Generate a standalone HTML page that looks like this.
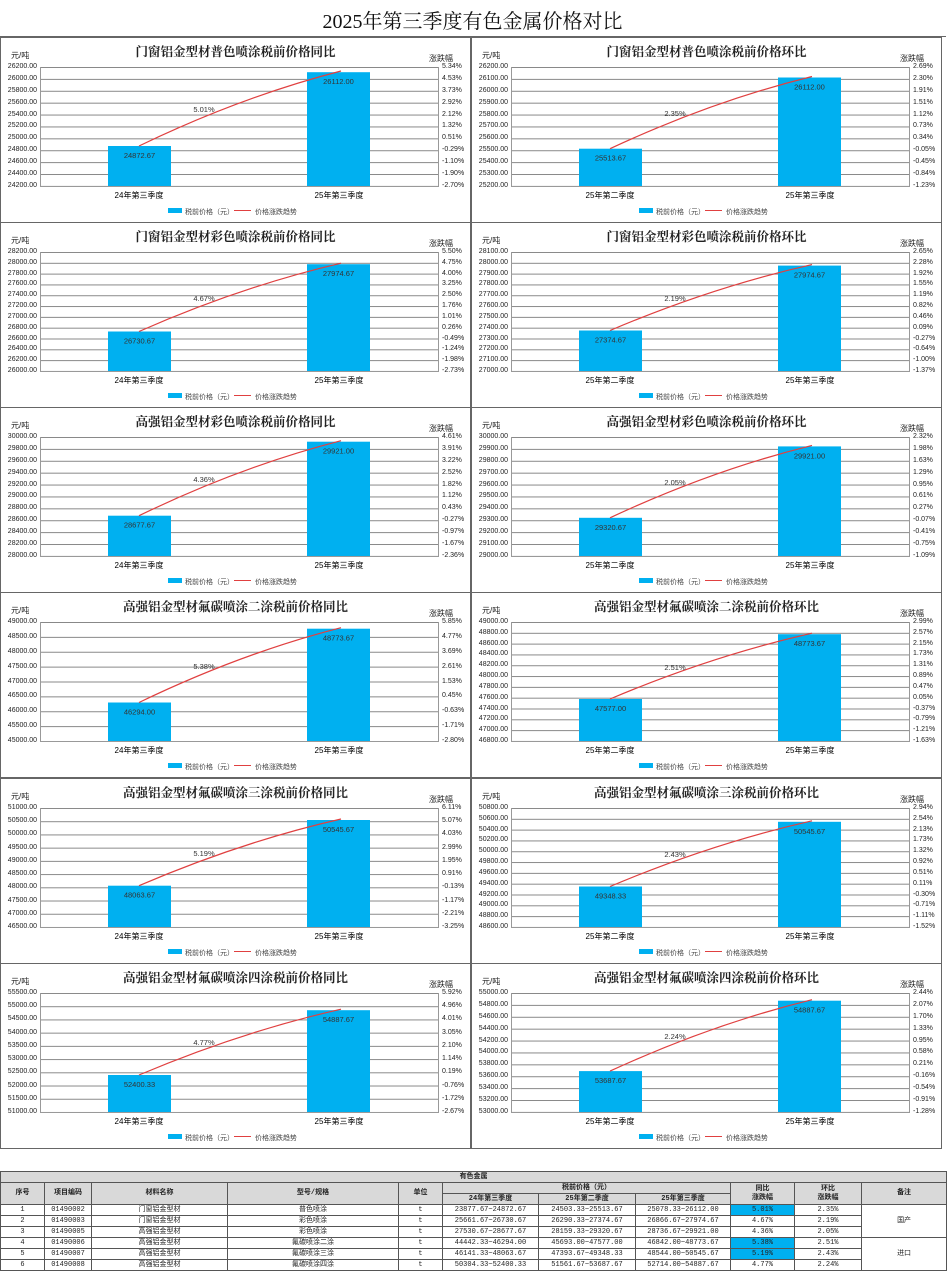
<!DOCTYPE html>
<html><head><meta charset="utf-8"><style>
*{margin:0;padding:0}
body{width:950px;height:1270px;position:relative;background:#fff;font-family:"Liberation Sans","Noto Sans CJK SC",sans-serif;color:#222;overflow:hidden}
.h{position:absolute;left:0;top:5px;width:945px;text-align:center;font:20px "Liberation Serif","Noto Serif CJK SC",serif;color:#111}
.c{position:absolute;width:469px;height:184px;border:1px solid #666}
.t{position:absolute;top:4px;left:0;width:100%;text-align:center;font:bold 12.5px "Liberation Serif","Noto Serif CJK SC",serif;color:#222}
.u{position:absolute;left:10px;top:12px;font-size:8px}
.r{position:absolute;left:428px;top:15px;font-size:8px}
.p{position:absolute;left:39px;top:29px;width:397px;height:119px;border:1px solid #999;border-top:none;background:linear-gradient(#888 1px,transparent 1px) 0 0/100% calc(119px / var(--n))}
.yl,.yr{position:absolute;top:25px;height:127px;display:flex;flex-direction:column;justify-content:space-between;font-size:7px;line-height:8px}
.yl{left:0;width:36px;text-align:right}
.yr{left:441px;text-align:left}
svg{position:absolute;left:0;top:0}
svg text{font-family:"Liberation Sans","Noto Sans CJK SC",sans-serif}
table{position:absolute;left:0;top:1171px;width:946px;border-collapse:collapse;table-layout:fixed;font:7px "Liberation Mono","Noto Sans CJK SC",monospace}
td{border:1px solid #555;height:10px;text-align:center;padding:0;line-height:9px;white-space:nowrap;overflow:hidden}
.g td,td.g{background:#d9d9d9;font-weight:bold}
td.b{background:#00b0f0}
</style></head><body>
<div class="h">2025年第三季度有色金属价格对比</div>
<div style="position:absolute;left:0;top:36px;width:946px;border-top:1px solid #666"></div>

<!-- C1 -->
<div class="c" style="left:0;top:37px">
<div class="t">门窗铝金型材普色喷涂税前价格同比</div><div class="u">元/吨</div><div class="r">涨跌幅</div>
<div class="p" style="--n:10"></div>
<div class="yl"><span>26200.00</span><span>26000.00</span><span>25800.00</span><span>25600.00</span><span>25400.00</span><span>25200.00</span><span>25000.00</span><span>24800.00</span><span>24600.00</span><span>24400.00</span><span>24200.00</span></div>
<div class="yr"><span>5.34%</span><span>4.53%</span><span>3.73%</span><span>2.92%</span><span>2.12%</span><span>1.32%</span><span>0.51%</span><span>-0.29%</span><span>-1.10%</span><span>-1.90%</span><span>-2.70%</span></div>
<svg width="470" height="185"><rect x="107" y="108" width="63" height="40" fill="#00b0f0"/><rect x="306" y="34.2" width="63" height="113.8" fill="#00b0f0"/>
<text x="138.5" y="120" font-size="7.5" text-anchor="middle" fill="#333">24872.67</text><text x="337.5" y="46" font-size="7.5" text-anchor="middle" fill="#333">26112.00</text>
<path d="M138 108 Q240 58.8 340 33" fill="none" stroke="#e04040" stroke-width="1.2"/><text x="203" y="74" font-size="7.5" text-anchor="middle" fill="#333">5.01%</text>
<text x="138" y="160" font-size="8" text-anchor="middle">24年第三季度</text><text x="338" y="160" font-size="8" text-anchor="middle">25年第三季度</text>
<rect x="167" y="170" width="14" height="5" fill="#00b0f0"/><text x="184" y="176" font-size="7" fill="#444">税前价格（元）</text><line x1="233" y1="172.5" x2="250" y2="172.5" stroke="#e04040"/><text x="254" y="176" font-size="7" fill="#444">价格涨跌趋势</text></svg>
</div>

<!-- C2 -->
<div class="c" style="left:471px;top:37px">
<div class="t">门窗铝金型材普色喷涂税前价格环比</div><div class="u">元/吨</div><div class="r">涨跌幅</div>
<div class="p" style="--n:10"></div>
<div class="yl"><span>26200.00</span><span>26100.00</span><span>26000.00</span><span>25900.00</span><span>25800.00</span><span>25700.00</span><span>25600.00</span><span>25500.00</span><span>25400.00</span><span>25300.00</span><span>25200.00</span></div>
<div class="yr"><span>2.69%</span><span>2.30%</span><span>1.91%</span><span>1.51%</span><span>1.12%</span><span>0.73%</span><span>0.34%</span><span>-0.05%</span><span>-0.45%</span><span>-0.84%</span><span>-1.23%</span></div>
<svg width="470" height="185"><rect x="107" y="110.7" width="63" height="37.3" fill="#00b0f0"/><rect x="306" y="39.5" width="63" height="108.5" fill="#00b0f0"/>
<text x="138.5" y="122.7" font-size="7.5" text-anchor="middle" fill="#333">25513.67</text><text x="337.5" y="51.5" font-size="7.5" text-anchor="middle" fill="#333">26112.00</text>
<path d="M138 110.7 Q240 63.2 340 38.5" fill="none" stroke="#e04040" stroke-width="1.2"/><text x="203" y="78" font-size="7.5" text-anchor="middle" fill="#333">2.35%</text>
<text x="138" y="160" font-size="8" text-anchor="middle">25年第二季度</text><text x="338" y="160" font-size="8" text-anchor="middle">25年第三季度</text>
<rect x="167" y="170" width="14" height="5" fill="#00b0f0"/><text x="184" y="176" font-size="7" fill="#444">税前价格（元）</text><line x1="233" y1="172.5" x2="250" y2="172.5" stroke="#e04040"/><text x="254" y="176" font-size="7" fill="#444">价格涨跌趋势</text></svg>
</div>

<!-- C3 -->
<div class="c" style="left:0;top:222px">
<div class="t">门窗铝金型材彩色喷涂税前价格同比</div><div class="u">元/吨</div><div class="r">涨跌幅</div>
<div class="p" style="--n:11"></div>
<div class="yl"><span>28200.00</span><span>28000.00</span><span>27800.00</span><span>27600.00</span><span>27400.00</span><span>27200.00</span><span>27000.00</span><span>26800.00</span><span>26600.00</span><span>26400.00</span><span>26200.00</span><span>26000.00</span></div>
<div class="yr"><span>5.50%</span><span>4.75%</span><span>4.00%</span><span>3.25%</span><span>2.50%</span><span>1.76%</span><span>1.01%</span><span>0.26%</span><span>-0.49%</span><span>-1.24%</span><span>-1.98%</span><span>-2.73%</span></div>
<svg width="470" height="185"><rect x="107" y="108.5" width="63" height="39.5" fill="#00b0f0"/><rect x="306" y="41.2" width="63" height="106.8" fill="#00b0f0"/>
<text x="138.5" y="120.5" font-size="7.5" text-anchor="middle" fill="#333">26730.67</text><text x="337.5" y="53.2" font-size="7.5" text-anchor="middle" fill="#333">27974.67</text>
<path d="M138 108.5 Q240 63.6 340 40.2" fill="none" stroke="#e04040" stroke-width="1.2"/><text x="203" y="78" font-size="7.5" text-anchor="middle" fill="#333">4.67%</text>
<text x="138" y="160" font-size="8" text-anchor="middle">24年第三季度</text><text x="338" y="160" font-size="8" text-anchor="middle">25年第三季度</text>
<rect x="167" y="170" width="14" height="5" fill="#00b0f0"/><text x="184" y="176" font-size="7" fill="#444">税前价格（元）</text><line x1="233" y1="172.5" x2="250" y2="172.5" stroke="#e04040"/><text x="254" y="176" font-size="7" fill="#444">价格涨跌趋势</text></svg>
</div>

<!-- C4 -->
<div class="c" style="left:471px;top:222px">
<div class="t">门窗铝金型材彩色喷涂税前价格环比</div><div class="u">元/吨</div><div class="r">涨跌幅</div>
<div class="p" style="--n:11"></div>
<div class="yl"><span>28100.00</span><span>28000.00</span><span>27900.00</span><span>27800.00</span><span>27700.00</span><span>27600.00</span><span>27500.00</span><span>27400.00</span><span>27300.00</span><span>27200.00</span><span>27100.00</span><span>27000.00</span></div>
<div class="yr"><span>2.65%</span><span>2.28%</span><span>1.92%</span><span>1.55%</span><span>1.19%</span><span>0.82%</span><span>0.46%</span><span>0.09%</span><span>-0.27%</span><span>-0.64%</span><span>-1.00%</span><span>-1.37%</span></div>
<svg width="470" height="185"><rect x="107" y="107.5" width="63" height="40.5" fill="#00b0f0"/><rect x="306" y="42.6" width="63" height="105.4" fill="#00b0f0"/>
<text x="138.5" y="119.5" font-size="7.5" text-anchor="middle" fill="#333">27374.67</text><text x="337.5" y="54.6" font-size="7.5" text-anchor="middle" fill="#333">27974.67</text>
<path d="M138 107.5 Q240 64.2 340 41.6" fill="none" stroke="#e04040" stroke-width="1.2"/><text x="203" y="78" font-size="7.5" text-anchor="middle" fill="#333">2.19%</text>
<text x="138" y="160" font-size="8" text-anchor="middle">25年第二季度</text><text x="338" y="160" font-size="8" text-anchor="middle">25年第三季度</text>
<rect x="167" y="170" width="14" height="5" fill="#00b0f0"/><text x="184" y="176" font-size="7" fill="#444">税前价格（元）</text><line x1="233" y1="172.5" x2="250" y2="172.5" stroke="#e04040"/><text x="254" y="176" font-size="7" fill="#444">价格涨跌趋势</text></svg>
</div>

<!-- C5 -->
<div class="c" style="left:0;top:407px">
<div class="t">高强铝金型材彩色喷涂税前价格同比</div><div class="u">元/吨</div><div class="r">涨跌幅</div>
<div class="p" style="--n:10"></div>
<div class="yl"><span>30000.00</span><span>29800.00</span><span>29600.00</span><span>29400.00</span><span>29200.00</span><span>29000.00</span><span>28800.00</span><span>28600.00</span><span>28400.00</span><span>28200.00</span><span>28000.00</span></div>
<div class="yr"><span>4.61%</span><span>3.91%</span><span>3.22%</span><span>2.52%</span><span>1.82%</span><span>1.12%</span><span>0.43%</span><span>-0.27%</span><span>-0.97%</span><span>-1.67%</span><span>-2.36%</span></div>
<svg width="470" height="185"><rect x="107" y="107.7" width="63" height="40.3" fill="#00b0f0"/><rect x="306" y="33.7" width="63" height="114.3" fill="#00b0f0"/>
<text x="138.5" y="119.7" font-size="7.5" text-anchor="middle" fill="#333">28677.67</text><text x="337.5" y="45.7" font-size="7.5" text-anchor="middle" fill="#333">29921.00</text>
<path d="M138 107.7 Q240 58.4 340 32.7" fill="none" stroke="#e04040" stroke-width="1.2"/><text x="203" y="74" font-size="7.5" text-anchor="middle" fill="#333">4.36%</text>
<text x="138" y="160" font-size="8" text-anchor="middle">24年第三季度</text><text x="338" y="160" font-size="8" text-anchor="middle">25年第三季度</text>
<rect x="167" y="170" width="14" height="5" fill="#00b0f0"/><text x="184" y="176" font-size="7" fill="#444">税前价格（元）</text><line x1="233" y1="172.5" x2="250" y2="172.5" stroke="#e04040"/><text x="254" y="176" font-size="7" fill="#444">价格涨跌趋势</text></svg>
</div>

<!-- C6 -->
<div class="c" style="left:471px;top:407px">
<div class="t">高强铝金型材彩色喷涂税前价格环比</div><div class="u">元/吨</div><div class="r">涨跌幅</div>
<div class="p" style="--n:10"></div>
<div class="yl"><span>30000.00</span><span>29900.00</span><span>29800.00</span><span>29700.00</span><span>29600.00</span><span>29500.00</span><span>29400.00</span><span>29300.00</span><span>29200.00</span><span>29100.00</span><span>29000.00</span></div>
<div class="yr"><span>2.32%</span><span>1.98%</span><span>1.63%</span><span>1.29%</span><span>0.95%</span><span>0.61%</span><span>0.27%</span><span>-0.07%</span><span>-0.41%</span><span>-0.75%</span><span>-1.09%</span></div>
<svg width="470" height="185"><rect x="107" y="109.8" width="63" height="38.2" fill="#00b0f0"/><rect x="306" y="38.4" width="63" height="109.6" fill="#00b0f0"/>
<text x="138.5" y="121.8" font-size="7.5" text-anchor="middle" fill="#333">29320.67</text><text x="337.5" y="50.4" font-size="7.5" text-anchor="middle" fill="#333">29921.00</text>
<path d="M138 109.8 Q240 62.2 340 37.4" fill="none" stroke="#e04040" stroke-width="1.2"/><text x="203" y="77" font-size="7.5" text-anchor="middle" fill="#333">2.05%</text>
<text x="138" y="160" font-size="8" text-anchor="middle">25年第二季度</text><text x="338" y="160" font-size="8" text-anchor="middle">25年第三季度</text>
<rect x="167" y="170" width="14" height="5" fill="#00b0f0"/><text x="184" y="176" font-size="7" fill="#444">税前价格（元）</text><line x1="233" y1="172.5" x2="250" y2="172.5" stroke="#e04040"/><text x="254" y="176" font-size="7" fill="#444">价格涨跌趋势</text></svg>
</div>

<!-- C7 -->
<div class="c" style="left:0;top:592px">
<div class="t">高强铝金型材氟碳喷涂二涂税前价格同比</div><div class="u">元/吨</div><div class="r">涨跌幅</div>
<div class="p" style="--n:8"></div>
<div class="yl"><span>49000.00</span><span>48500.00</span><span>48000.00</span><span>47500.00</span><span>47000.00</span><span>46500.00</span><span>46000.00</span><span>45500.00</span><span>45000.00</span></div>
<div class="yr"><span>5.85%</span><span>4.77%</span><span>3.69%</span><span>2.61%</span><span>1.53%</span><span>0.45%</span><span>-0.63%</span><span>-1.71%</span><span>-2.80%</span></div>
<svg width="470" height="185"><rect x="107" y="109.5" width="63" height="38.5" fill="#00b0f0"/><rect x="306" y="35.7" width="63" height="112.3" fill="#00b0f0"/>
<text x="138.5" y="121.5" font-size="7.5" text-anchor="middle" fill="#333">46294.00</text><text x="337.5" y="47.7" font-size="7.5" text-anchor="middle" fill="#333">48773.67</text>
<path d="M138 109.5 Q240 60.3 340 34.7" fill="none" stroke="#e04040" stroke-width="1.2"/><text x="203" y="76" font-size="7.5" text-anchor="middle" fill="#333">5.38%</text>
<text x="138" y="160" font-size="8" text-anchor="middle">24年第三季度</text><text x="338" y="160" font-size="8" text-anchor="middle">25年第三季度</text>
<rect x="167" y="170" width="14" height="5" fill="#00b0f0"/><text x="184" y="176" font-size="7" fill="#444">税前价格（元）</text><line x1="233" y1="172.5" x2="250" y2="172.5" stroke="#e04040"/><text x="254" y="176" font-size="7" fill="#444">价格涨跌趋势</text></svg>
</div>

<!-- C8 -->
<div class="c" style="left:471px;top:592px">
<div class="t">高强铝金型材氟碳喷涂二涂税前价格环比</div><div class="u">元/吨</div><div class="r">涨跌幅</div>
<div class="p" style="--n:11"></div>
<div class="yl"><span>49000.00</span><span>48800.00</span><span>48600.00</span><span>48400.00</span><span>48200.00</span><span>48000.00</span><span>47800.00</span><span>47600.00</span><span>47400.00</span><span>47200.00</span><span>47000.00</span><span>46800.00</span></div>
<div class="yr"><span>2.99%</span><span>2.57%</span><span>2.15%</span><span>1.73%</span><span>1.31%</span><span>0.89%</span><span>0.47%</span><span>0.05%</span><span>-0.37%</span><span>-0.79%</span><span>-1.21%</span><span>-1.63%</span></div>
<svg width="470" height="185"><rect x="107" y="106" width="63" height="42" fill="#00b0f0"/><rect x="306" y="41.2" width="63" height="106.8" fill="#00b0f0"/>
<text x="138.5" y="118" font-size="7.5" text-anchor="middle" fill="#333">47577.00</text><text x="337.5" y="53.2" font-size="7.5" text-anchor="middle" fill="#333">48773.67</text>
<path d="M138 106 Q240 62.8 340 40.2" fill="none" stroke="#e04040" stroke-width="1.2"/><text x="203" y="77" font-size="7.5" text-anchor="middle" fill="#333">2.51%</text>
<text x="138" y="160" font-size="8" text-anchor="middle">25年第二季度</text><text x="338" y="160" font-size="8" text-anchor="middle">25年第三季度</text>
<rect x="167" y="170" width="14" height="5" fill="#00b0f0"/><text x="184" y="176" font-size="7" fill="#444">税前价格（元）</text><line x1="233" y1="172.5" x2="250" y2="172.5" stroke="#e04040"/><text x="254" y="176" font-size="7" fill="#444">价格涨跌趋势</text></svg>
</div>

<!-- C9 -->
<div class="c" style="left:0;top:778px">
<div class="t">高强铝金型材氟碳喷涂三涂税前价格同比</div><div class="u">元/吨</div><div class="r">涨跌幅</div>
<div class="p" style="--n:9"></div>
<div class="yl"><span>51000.00</span><span>50500.00</span><span>50000.00</span><span>49500.00</span><span>49000.00</span><span>48500.00</span><span>48000.00</span><span>47500.00</span><span>47000.00</span><span>46500.00</span></div>
<div class="yr"><span>6.11%</span><span>5.07%</span><span>4.03%</span><span>2.99%</span><span>1.95%</span><span>0.91%</span><span>-0.13%</span><span>-1.17%</span><span>-2.21%</span><span>-3.25%</span></div>
<svg width="470" height="185"><rect x="107" y="106.7" width="63" height="41.3" fill="#00b0f0"/><rect x="306" y="41" width="63" height="107" fill="#00b0f0"/>
<text x="138.5" y="118.7" font-size="7.5" text-anchor="middle" fill="#333">48063.67</text><text x="337.5" y="53" font-size="7.5" text-anchor="middle" fill="#333">50545.67</text>
<path d="M138 106.7 Q240 62.9 340 40" fill="none" stroke="#e04040" stroke-width="1.2"/><text x="203" y="77" font-size="7.5" text-anchor="middle" fill="#333">5.19%</text>
<text x="138" y="160" font-size="8" text-anchor="middle">24年第三季度</text><text x="338" y="160" font-size="8" text-anchor="middle">25年第三季度</text>
<rect x="167" y="170" width="14" height="5" fill="#00b0f0"/><text x="184" y="176" font-size="7" fill="#444">税前价格（元）</text><line x1="233" y1="172.5" x2="250" y2="172.5" stroke="#e04040"/><text x="254" y="176" font-size="7" fill="#444">价格涨跌趋势</text></svg>
</div>

<!-- C10 -->
<div class="c" style="left:471px;top:778px">
<div class="t">高强铝金型材氟碳喷涂三涂税前价格环比</div><div class="u">元/吨</div><div class="r">涨跌幅</div>
<div class="p" style="--n:11"></div>
<div class="yl"><span>50800.00</span><span>50600.00</span><span>50400.00</span><span>50200.00</span><span>50000.00</span><span>49800.00</span><span>49600.00</span><span>49400.00</span><span>49200.00</span><span>49000.00</span><span>48800.00</span><span>48600.00</span></div>
<div class="yr"><span>2.94%</span><span>2.54%</span><span>2.13%</span><span>1.73%</span><span>1.32%</span><span>0.92%</span><span>0.51%</span><span>0.11%</span><span>-0.30%</span><span>-0.71%</span><span>-1.11%</span><span>-1.52%</span></div>
<svg width="470" height="185"><rect x="107" y="107.5" width="63" height="40.5" fill="#00b0f0"/><rect x="306" y="42.8" width="63" height="105.2" fill="#00b0f0"/>
<text x="138.5" y="119.5" font-size="7.5" text-anchor="middle" fill="#333">49348.33</text><text x="337.5" y="54.8" font-size="7.5" text-anchor="middle" fill="#333">50545.67</text>
<path d="M138 107.5 Q240 64.4 340 41.8" fill="none" stroke="#e04040" stroke-width="1.2"/><text x="203" y="78" font-size="7.5" text-anchor="middle" fill="#333">2.43%</text>
<text x="138" y="160" font-size="8" text-anchor="middle">25年第二季度</text><text x="338" y="160" font-size="8" text-anchor="middle">25年第三季度</text>
<rect x="167" y="170" width="14" height="5" fill="#00b0f0"/><text x="184" y="176" font-size="7" fill="#444">税前价格（元）</text><line x1="233" y1="172.5" x2="250" y2="172.5" stroke="#e04040"/><text x="254" y="176" font-size="7" fill="#444">价格涨跌趋势</text></svg>
</div>

<!-- C11 -->
<div class="c" style="left:0;top:963px">
<div class="t">高强铝金型材氟碳喷涂四涂税前价格同比</div><div class="u">元/吨</div><div class="r">涨跌幅</div>
<div class="p" style="--n:9"></div>
<div class="yl"><span>55500.00</span><span>55000.00</span><span>54500.00</span><span>54000.00</span><span>53500.00</span><span>53000.00</span><span>52500.00</span><span>52000.00</span><span>51500.00</span><span>51000.00</span></div>
<div class="yr"><span>5.92%</span><span>4.96%</span><span>4.01%</span><span>3.05%</span><span>2.10%</span><span>1.14%</span><span>0.19%</span><span>-0.76%</span><span>-1.72%</span><span>-2.67%</span></div>
<svg width="470" height="185"><rect x="107" y="111" width="63" height="37" fill="#00b0f0"/><rect x="306" y="46.2" width="63" height="101.8" fill="#00b0f0"/>
<text x="138.5" y="123" font-size="7.5" text-anchor="middle" fill="#333">52400.33</text><text x="337.5" y="58.2" font-size="7.5" text-anchor="middle" fill="#333">54887.67</text>
<path d="M138 111 Q240 67.8 340 45.2" fill="none" stroke="#e04040" stroke-width="1.2"/><text x="203" y="81" font-size="7.5" text-anchor="middle" fill="#333">4.77%</text>
<text x="138" y="160" font-size="8" text-anchor="middle">24年第三季度</text><text x="338" y="160" font-size="8" text-anchor="middle">25年第三季度</text>
<rect x="167" y="170" width="14" height="5" fill="#00b0f0"/><text x="184" y="176" font-size="7" fill="#444">税前价格（元）</text><line x1="233" y1="172.5" x2="250" y2="172.5" stroke="#e04040"/><text x="254" y="176" font-size="7" fill="#444">价格涨跌趋势</text></svg>
</div>

<!-- C12 -->
<div class="c" style="left:471px;top:963px">
<div class="t">高强铝金型材氟碳喷涂四涂税前价格环比</div><div class="u">元/吨</div><div class="r">涨跌幅</div>
<div class="p" style="--n:10"></div>
<div class="yl"><span>55000.00</span><span>54800.00</span><span>54600.00</span><span>54400.00</span><span>54200.00</span><span>54000.00</span><span>53800.00</span><span>53600.00</span><span>53400.00</span><span>53200.00</span><span>53000.00</span></div>
<div class="yr"><span>2.44%</span><span>2.07%</span><span>1.70%</span><span>1.33%</span><span>0.95%</span><span>0.58%</span><span>0.21%</span><span>-0.16%</span><span>-0.54%</span><span>-0.91%</span><span>-1.28%</span></div>
<svg width="470" height="185"><rect x="107" y="107.1" width="63" height="40.9" fill="#00b0f0"/><rect x="306" y="36.7" width="63" height="111.3" fill="#00b0f0"/>
<text x="138.5" y="119.1" font-size="7.5" text-anchor="middle" fill="#333">53687.67</text><text x="337.5" y="48.7" font-size="7.5" text-anchor="middle" fill="#333">54887.67</text>
<path d="M138 107.1 Q240 60.2 340 35.7" fill="none" stroke="#e04040" stroke-width="1.2"/><text x="203" y="75" font-size="7.5" text-anchor="middle" fill="#333">2.24%</text>
<text x="138" y="160" font-size="8" text-anchor="middle">25年第二季度</text><text x="338" y="160" font-size="8" text-anchor="middle">25年第三季度</text>
<rect x="167" y="170" width="14" height="5" fill="#00b0f0"/><text x="184" y="176" font-size="7" fill="#444">税前价格（元）</text><line x1="233" y1="172.5" x2="250" y2="172.5" stroke="#e04040"/><text x="254" y="176" font-size="7" fill="#444">价格涨跌趋势</text></svg>
</div>

<table>
<colgroup><col style="width:44px"><col style="width:47px"><col style="width:136px"><col style="width:171px"><col style="width:44px"><col style="width:96px"><col style="width:97px"><col style="width:95px"><col style="width:64px"><col style="width:67px"><col style="width:85px"></colgroup>
<tr class="g"><td colspan="11">有色金属</td></tr>
<tr class="g"><td rowspan="2">序号</td><td rowspan="2">项目编码</td><td rowspan="2">材料名称</td><td rowspan="2">型号/规格</td><td rowspan="2">单位</td><td colspan="3">税前价格（元）</td><td rowspan="2">同比<br>涨跌幅</td><td rowspan="2">环比<br>涨跌幅</td><td rowspan="2">备注</td></tr>
<tr class="g"><td>24年第三季度</td><td>25年第二季度</td><td>25年第三季度</td></tr>
<tr><td>1</td><td>01490002</td><td>门窗铝金型材</td><td>普色喷涂</td><td>t</td><td>23877.67~24872.67</td><td>24503.33~25513.67</td><td>25078.33~26112.00</td><td class="b">5.01%</td><td>2.35%</td><td rowspan="3">国产</td></tr>
<tr><td>2</td><td>01490003</td><td>门窗铝金型材</td><td>彩色喷涂</td><td>t</td><td>25661.67~26730.67</td><td>26290.33~27374.67</td><td>26866.67~27974.67</td><td>4.67%</td><td>2.19%</td></tr>
<tr><td>3</td><td>01490005</td><td>高强铝金型材</td><td>彩色喷涂</td><td>t</td><td>27530.67~28677.67</td><td>28159.33~29320.67</td><td>28736.67~29921.00</td><td>4.36%</td><td>2.05%</td></tr>
<tr><td>4</td><td>01490006</td><td>高强铝金型材</td><td>氟碳喷涂二涂</td><td>t</td><td>44442.33~46294.00</td><td>45693.00~47577.00</td><td>46842.00~48773.67</td><td class="b">5.38%</td><td>2.51%</td><td rowspan="3">进口</td></tr>
<tr><td>5</td><td>01490007</td><td>高强铝金型材</td><td>氟碳喷涂三涂</td><td>t</td><td>46141.33~48063.67</td><td>47393.67~49348.33</td><td>48544.00~50545.67</td><td class="b">5.19%</td><td>2.43%</td></tr>
<tr><td>6</td><td>01490008</td><td>高强铝金型材</td><td>氟碳喷涂四涂</td><td>t</td><td>50304.33~52400.33</td><td>51561.67~53687.67</td><td>52714.00~54887.67</td><td>4.77%</td><td>2.24%</td></tr>
</table>
</body></html>
